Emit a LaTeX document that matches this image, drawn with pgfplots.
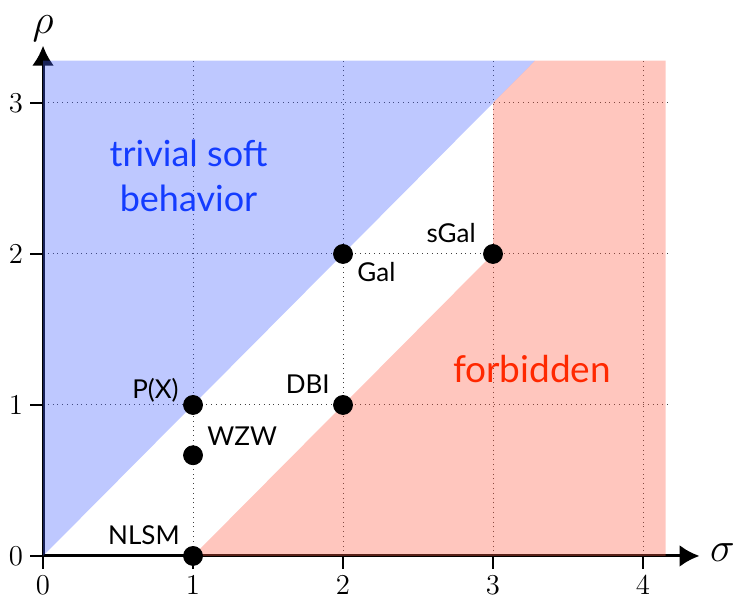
\documentclass[border=0pt]{standalone}
\usepackage{pgfplots}
\pgfplotsset{compat=1.18}
\usepackage{fontspec}
\newfontfamily\lab{Lato}
\usetikzlibrary{arrows.meta}
\definecolor{blueF}{RGB}{69,98,255}
\definecolor{redF}{RGB}{255,92,69}
\definecolor{blueT}{RGB}{20,60,255}
\definecolor{redT}{RGB}{255,40,0}
\begin{document}
\begin{tikzpicture}
\begin{axis}[
  x=75pt, y=75.5pt,
  xmin=0, xmax=4.17, ymin=0, ymax=3.3,
  axis lines=left,
  axis line style={line width=1.5pt},
  x axis line style={-{Latex[length=10pt,width=11pt]}, shorten >=-15.5pt},
  y axis line style={-{Latex[length=10pt,width=11pt]}, shorten >=-6pt},
  xtick={0,1,2,3,4}, ytick={0,1,2,3},
  tick align=outside,
  major tick length=6.5pt,
  tick style={line width=0.8pt, black},
  ticklabel style={font=\fontsize{14}{14}\selectfont},
  grid=major,
  grid style={dotted, line width=0.5pt, black!75},
  clip=false,
]
% blue region
\addplot[draw=none, fill=blueF, fill opacity=0.35] coordinates {(0,0) (3.28,3.28) (0,3.28)} -- cycle;
% red region below the diagonal
\addplot[draw=none, fill=redF, fill opacity=0.35] coordinates {(1,0) (3,2) (3,0)} -- cycle;
% points
\addplot[only marks, mark=*, mark size=4.75pt, black] coordinates {(1,0) (1,0.667) (1,1) (2,1) (2,2) (3,2)};
% red region sigma >= 3
\addplot[draw=none, fill=redF, fill opacity=0.35] coordinates {(3,0) (3,3) (3.28,3.28) (4.15,3.28) (4.15,0)} -- cycle;

\node[font=\lab\fontsize{13}{14}\selectfont, anchor=base east, inner sep=0, xshift=-6.5pt, yshift=5.5pt] at (axis cs:1,0) {NLSM};
\node[font=\lab\fontsize{13}{14}\selectfont, anchor=base east, inner sep=0, xshift=-7pt, yshift=3pt] at (axis cs:1,1) {P(X)};
\node[font=\lab\fontsize{13}{14}\selectfont, anchor=base west, inner sep=0, xshift=7pt, yshift=5pt] at (axis cs:1,0.667) {WZW};
\node[font=\lab\fontsize{13}{14}\selectfont, anchor=base east, inner sep=0, xshift=-6.5pt, yshift=5.5pt] at (axis cs:2,1) {DBI};
\node[font=\lab\fontsize{13}{14}\selectfont, anchor=base west, inner sep=0, xshift=7pt, yshift=-14pt] at (axis cs:2,2) {Gal};
\node[font=\lab\fontsize{13}{14}\selectfont, anchor=base east, inner sep=0, xshift=-8.5pt, yshift=5.5pt] at (axis cs:3,2) {sGal};

\node[font=\lab\fontsize{18}{20}\selectfont, text=blueT, anchor=base, inner sep=0] at (axis cs:0.97,2.576) {trivial soft};
\node[font=\lab\fontsize{18}{20}\selectfont, text=blueT, anchor=base, inner sep=0] at (axis cs:0.97,2.278) {behavior};
\node[font=\lab\fontsize{18.5}{20}\selectfont, text=redT, anchor=base, inner sep=0] at (axis cs:3.26,1.146) {forbidden};

\node[inner sep=0, font=\fontsize{21}{21}\selectfont] at (axis cs:0,3.49) {$\rho$};
\node[inner sep=0, font=\fontsize{21}{21}\selectfont] at (axis cs:4.53,0.02) {$\sigma$};

\coordinate (bbA) at (axis cs:-0.287,-0.265);
\coordinate (bbB) at (axis cs:4.62,3.682);
\end{axis}
\pgfresetboundingbox
\path[use as bounding box] (bbA) rectangle (bbB);
\end{tikzpicture}
\end{document}
